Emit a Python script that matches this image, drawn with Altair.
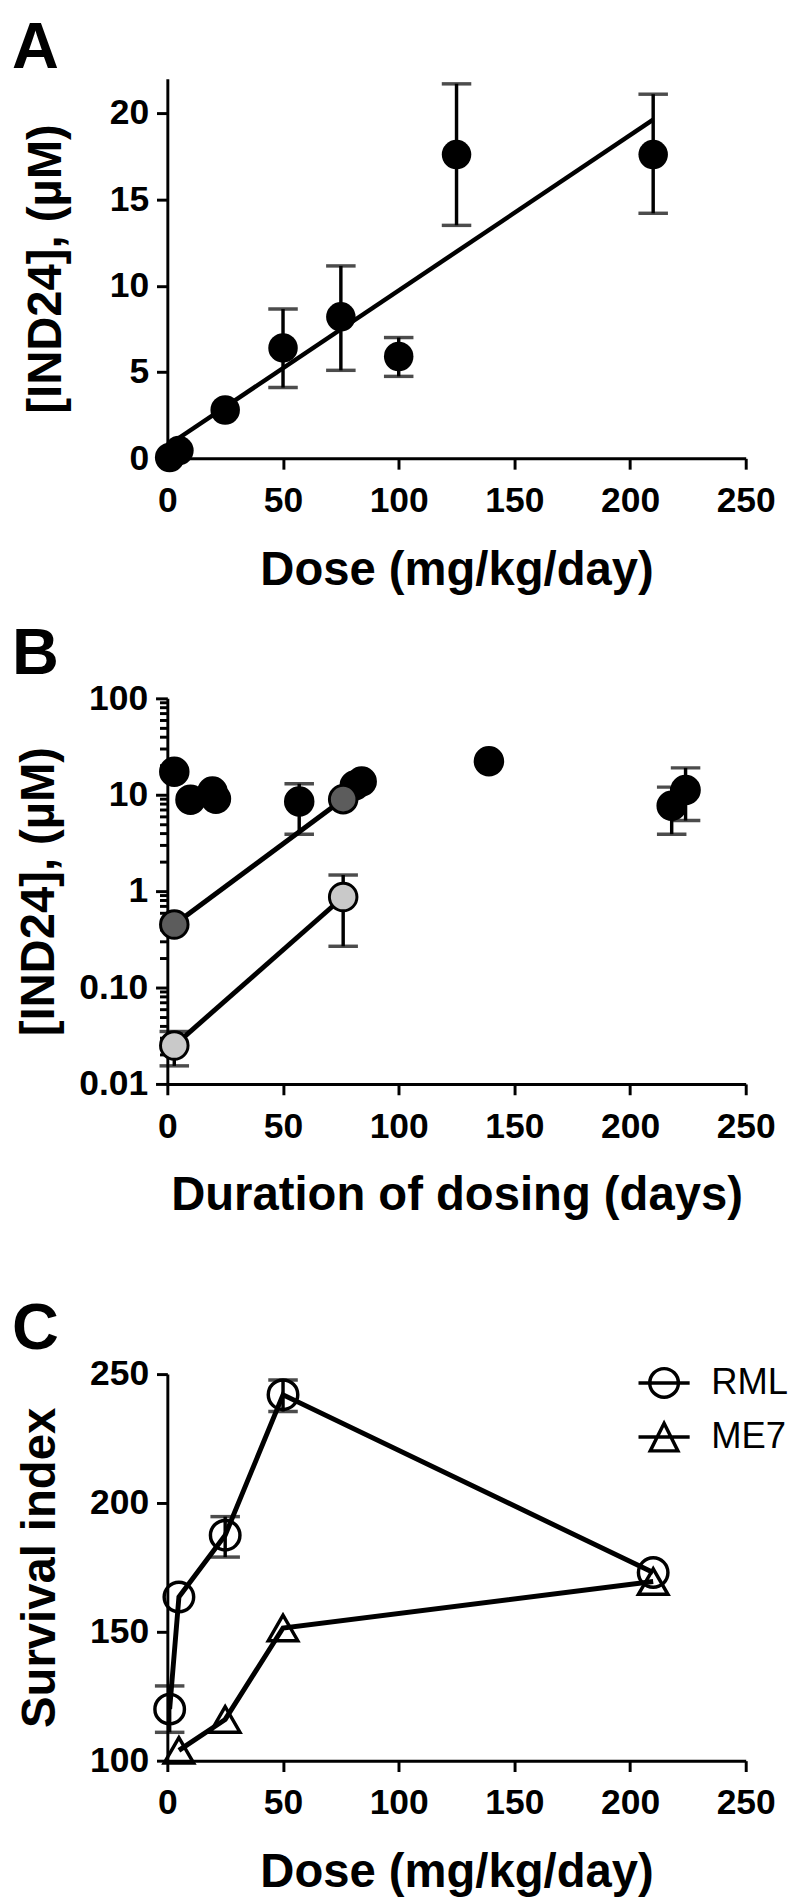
import altair as alt
import pandas as pd

FONT = "Liberation Sans"
BLACK = "#000000"

# ---------------- Panel A : concentration vs dose ----------------
a_dose = [1, 5, 25, 50, 75, 100, 125, 210]
a_conc = [0.05, 0.45, 2.8, 6.4, 8.2, 5.9, 17.6, 17.6]
a_err_dose = [50, 75, 100, 125, 210]
a_err_lo = [4.1, 5.1, 4.75, 13.5, 14.2]
a_err_hi = [8.65, 11.15, 7.0, 21.7, 21.1]
a_fit_extent = [0, 210]
a_yticks = [0, 5, 10, 15, 20]

# ---------------- Panel B : concentration vs duration ----------------
b_black_days = [3, 10, 19.5, 21, 57, 81, 84, 139, 218, 224]
b_black_conc = [17.3, 8.9, 10.8, 9.1, 8.5, 12.5, 13.7, 22.3, 7.7, 11.2]
b_dark_days = [3, 76]
b_dark_conc = [0.45, 9.0]
b_light_days = [3, 76]
b_light_conc = [0.025, 0.87]
b_err_days = [57, 218, 224, 3, 76]
b_err_lo = [3.9, 3.9, 5.4, 0.0154, 0.268]
b_err_hi = [13.0, 12.0, 19.0, 0.035, 1.47]
b_major = [0.01, 0.1, 1, 10, 100]
b_major_labels = ["0.01", "0.10", "1", "10", "100"]
b_minor_mult = [2, 3, 4, 5, 6, 7, 8, 9]

# ---------------- Panel C : survival index ----------------
c_rml_dose = [1, 5, 25, 50, 210]
c_rml = [120, 163.5, 187.5, 242, 173]
c_rml_err_dose = [1, 25, 50]
c_rml_lo = [111, 179, 235.5]
c_rml_hi = [129, 194.7, 247.7]
c_me7_dose = [5, 25, 50, 210]
c_me7 = [104, 116, 151.5, 169.5]
c_strains = ["RML", "ME7"]
c_yticks = [100, 150, 200, 250]

x_ticks = [0, 50, 100, 150, 200, 250]

W = 588
xscale = alt.Scale(domain=[0, 250], nice=False, zero=False)
ERR_KW = dict(ticks=alt.MarkConfig(strokeWidth=3.5), rule=alt.MarkConfig(strokeWidth=3.5),
              size=30, thickness=3.5, color=BLACK)


def xaxis(title, lh=None):
    kw = dict(title=title, values=x_ticks, labelFlush=False, labelOverlap=False,
              labelPadding=15, titlePadding=29)
    if lh is not None:
        kw["titleLineHeight"] = lh
    return alt.Axis(**kw)


def panel_title(letter, offset):
    return alt.TitleParams(text=letter, anchor="start", frame="group", dx=-158, offset=offset,
                           font=FONT, fontSize=66, fontWeight="bold", color=BLACK)


# ---------- A ----------
dfA = pd.DataFrame({"x": a_dose, "y": a_conc})
dfA_err = pd.DataFrame({"x": a_err_dose, "lo": a_err_lo, "hi": a_err_hi})
yA_scale = alt.Scale(domain=[0, 22], nice=False, zero=False)
axA_x = xaxis("Dose (mg/kg/day)")
axA_y = alt.Axis(title="[IND24], (µM)", values=a_yticks, labelPadding=8, titlePadding=40,
                 labelOverlap=False)

fitA = alt.Chart(dfA).transform_regression("x", "y", extent=a_fit_extent).mark_line(
    color=BLACK, strokeWidth=4.5).encode(
    x=alt.X("x:Q", scale=xscale, axis=axA_x), y=alt.Y("y:Q", scale=yA_scale, axis=axA_y))
errA = alt.Chart(dfA_err).mark_errorbar(**ERR_KW).encode(
    x=alt.X("x:Q", scale=xscale, axis=axA_x),
    y=alt.Y("lo:Q", scale=yA_scale, axis=axA_y), y2="hi:Q")
ptsA = alt.Chart(dfA).mark_point(filled=True, shape="circle", size=900, color=BLACK,
                                 opacity=1).encode(
    x=alt.X("x:Q", scale=xscale, axis=axA_x), y=alt.Y("y:Q", scale=yA_scale, axis=axA_y))
chartA = alt.layer(fitA, errA, ptsA).properties(width=W, height=386,
                                                title=panel_title("A", -3))

# ---------- B ----------
b_minor = [m * d for d in b_major[:-1] for m in b_minor_mult]
b_ticks = b_major + b_minor
major_list = "[" + ",".join(str(v) for v in b_major) + "]"
label_expr = "".join(f"datum.value == {v} ? '{l}' : " for v, l in zip(b_major, b_major_labels)) + "''"
yB_scale = alt.Scale(type="log", domain=[0.01, 100], nice=False)
axB_y = alt.Axis(title="[IND24], (µM)", values=b_ticks, labelExpr=label_expr, labelOverlap=False,
                 labelPadding=8, titlePadding=16,
                 tickSize={"condition": {"test": f"indexof({major_list}, datum.value) >= 0",
                                         "value": 12}, "value": 8})
axB_x = xaxis(["Duration of dosing (days)", ""], lh=50)

dfB = pd.DataFrame({
    "x": b_dark_days + b_light_days + b_black_days,
    "y": b_dark_conc + b_light_conc + b_black_conc,
    "g": ["dark"] * len(b_dark_days) + ["light"] * len(b_light_days) + ["black"] * len(b_black_days),
})
dfB_line = pd.DataFrame({
    "x": b_dark_days + b_light_days,
    "y": b_dark_conc + b_light_conc,
    "g": ["dark"] * len(b_dark_days) + ["light"] * len(b_light_days),
})
dfB_err = pd.DataFrame({"x": b_err_days, "lo": b_err_lo, "hi": b_err_hi})

lineB = alt.Chart(dfB_line).mark_line(color=BLACK, strokeWidth=5).encode(
    x=alt.X("x:Q", scale=xscale, axis=axB_x), y=alt.Y("y:Q", scale=yB_scale, axis=axB_y),
    detail="g:N")
errB = alt.Chart(dfB_err).mark_errorbar(**ERR_KW).encode(
    x=alt.X("x:Q", scale=xscale, axis=axB_x),
    y=alt.Y("lo:Q", scale=yB_scale, axis=axB_y), y2="hi:Q")
ptsB = alt.Chart(dfB).mark_point(filled=True, shape="circle", size=784, stroke=BLACK,
                                 strokeWidth=3, opacity=1).encode(
    x=alt.X("x:Q", scale=xscale, axis=axB_x), y=alt.Y("y:Q", scale=yB_scale, axis=axB_y),
    color=alt.Color("g:N", scale=alt.Scale(domain=["black", "dark", "light"],
                                           range=["#000000", "#5c5c5c", "#c9c9c9"]),
                    legend=None),
    order=alt.Order("g:N"))
chartB = alt.layer(lineB, errB, ptsB).properties(width=W, height=392,
                                                 title=panel_title("B", -7))

# ---------- C ----------
dfC = pd.DataFrame({
    "x": c_rml_dose + c_me7_dose,
    "y": c_rml + c_me7,
    "strain": ["RML"] * len(c_rml_dose) + ["ME7"] * len(c_me7_dose),
})
dfC_err = pd.DataFrame({"x": c_rml_err_dose, "lo": c_rml_lo, "hi": c_rml_hi})
yC_scale = alt.Scale(domain=[100, 250], nice=False, zero=False)
axC_x = xaxis("Dose (mg/kg/day)")
axC_y = alt.Axis(title="Survival index", values=c_yticks, labelPadding=8, titlePadding=26,
                 labelOverlap=False)

legend_paths = [
    "M-1,0L1,0M0.56,0A0.56,0.56,0,1,1,-0.56,0A0.56,0.56,0,1,1,0.56,0",
    "M-1,0L1,0M0,-0.54L0.54,0.54L-0.54,0.54Z",
]

lineC = alt.Chart(dfC).mark_line(color=BLACK, strokeWidth=5).encode(
    x=alt.X("x:Q", scale=xscale, axis=axC_x), y=alt.Y("y:Q", scale=yC_scale, axis=axC_y),
    detail="strain:N")
errC = alt.Chart(dfC_err).mark_errorbar(**ERR_KW).encode(
    x=alt.X("x:Q", scale=xscale, axis=axC_x),
    y=alt.Y("lo:Q", scale=yC_scale, axis=axC_y), y2="hi:Q")
ptsC = alt.Chart(dfC).mark_point(filled=False, size=900, strokeWidth=3.5, color=BLACK,
                                 opacity=1).encode(
    x=alt.X("x:Q", scale=xscale, axis=axC_x), y=alt.Y("y:Q", scale=yC_scale, axis=axC_y),
    shape=alt.Shape("strain:N", scale=alt.Scale(domain=c_strains,
                                                range=["circle", "triangle-up"]),
                    legend=None))
legC = alt.Chart(dfC).mark_point(filled=False, size=900, strokeWidth=3.5, color=BLACK,
                                 opacity=0).encode(
    x=alt.X("x:Q", scale=xscale, axis=axC_x), y=alt.Y("y:Q", scale=yC_scale, axis=axC_y),
    shape=alt.Shape("strain:N", scale=alt.Scale(domain=c_strains, range=legend_paths),
                    legend=alt.Legend(title=None, orient="none", legendX=477, legendY=-19,
                                      symbolSize=2704, symbolStrokeWidth=3.5,
                                      symbolStrokeColor=BLACK, symbolFillColor="transparent",
                                      symbolOpacity=1, labelFont=FONT, labelFontSize=37,
                                      labelFontWeight="normal", labelColor=BLACK,
                                      labelOffset=20, rowPadding=5, padding=0)))
chartC = alt.layer(lineC, errC, ptsC, legC).resolve_scale(shape="independent").properties(
    width=W, height=393, title=panel_title("C", -7))

chart = alt.vconcat(chartA, chartB, chartC, spacing=28).properties(
    padding={"left": 4, "top": -8, "right": 0, "bottom": 0}
).configure_axis(
    domainColor=BLACK, domainWidth=3, tickColor=BLACK, tickWidth=3, tickSize=11,
    labelFont=FONT, labelFontSize=36, labelFontWeight="bold", labelColor=BLACK,
    titleFont=FONT, titleFontSize=48, titleFontWeight="bold", titleColor=BLACK,
    grid=False,
).configure_view(strokeWidth=0)

chart.save("out.html", embed_options={"renderer": "svg", "actions": False})
